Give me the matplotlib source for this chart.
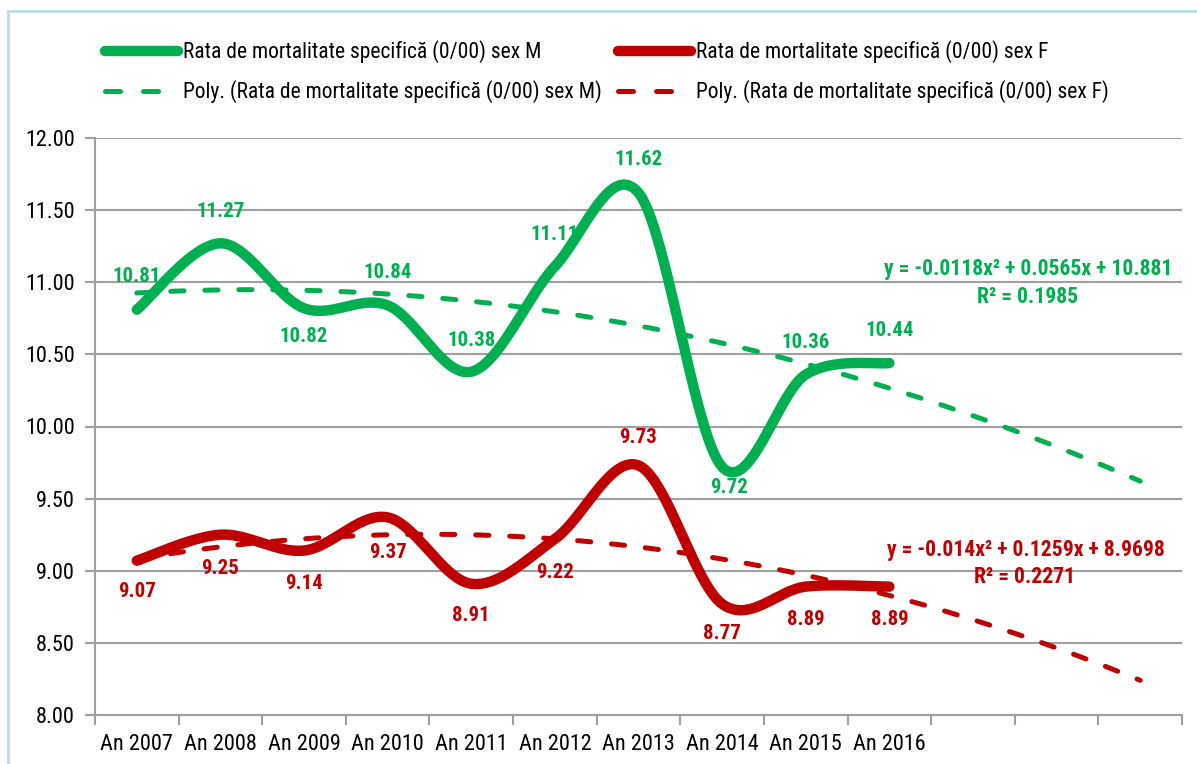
import matplotlib

matplotlib.use("Agg")
import matplotlib.pyplot as plt
import numpy as np
from matplotlib import font_manager
from matplotlib.lines import Line2D
from matplotlib.patches import Rectangle


YEARS = ["An 2007", "An 2008", "An 2009", "An 2010", "An 2011",
         "An 2012", "An 2013", "An 2014", "An 2015", "An 2016"]
MALE = [10.81, 11.27, 10.82, 10.84, 10.38, 11.11, 11.62, 9.72, 10.36, 10.44]
FEMALE = [9.07, 9.25, 9.14, 9.37, 8.91, 9.22, 9.73, 8.77, 8.89, 8.89]
MALE_POLY = [-0.0118, 0.0565, 10.881]
FEMALE_POLY = [-0.014, 0.1259, 8.9698]
MALE_R2 = 0.1985
FEMALE_R2 = 0.2271
N_SLOTS = 13  # 10 years + 3 forecast periods of the trendline

# label offsets in pixels (dx, dy), dy positive = down
MALE_OFFS = [(0, -33), (0, -32), (0, 28), (0, -33), (0, -31),
             (0, -32), (0, -33), (7, 21), (0, -32), (0, -33)]
FEMALE_OFFS = [(0, 31), (0, 34), (0, 33), (0, 35), (0, 32),
               (0, 33), (0, -28), (0, 30), (0, 33), (0, 33)]

GREEN = "#00b050"
RED = "#c00000"
GRID = "#9f9f9f"

names = {f.name for f in font_manager.fontManager.ttflist}
FONT = next(f for f in ["Liberation Sans Narrow", "Roboto Condensed", "Archivo Narrow", "DejaVu Sans"]
            if f in names)
plt.rcParams["font.family"] = [FONT, "DejaVu Sans"]
plt.rcParams["lines.scale_dashes"] = False


def smooth(values, n=40):
    # Excel-like smoothed line: cubic Bezier with Catmull-Rom control points
    pts = np.column_stack([np.arange(1, len(values) + 1, dtype=float), np.asarray(values, float)])
    prev = np.vstack([pts[0], pts[:-1]])
    nxt = np.vstack([pts[1:], pts[-1]])
    tang = (nxt - prev) / 6.0
    t = np.linspace(0, 1, n)[:, None]
    out = []
    for i in range(len(pts) - 1):
        p0, p3 = pts[i], pts[i + 1]
        p1, p2 = p0 + tang[i], p3 - tang[i + 1]
        seg = (1 - t) ** 3 * p0 + 3 * (1 - t) ** 2 * t * p1 + 3 * (1 - t) * t ** 2 * p2 + t ** 3 * p3
        out.append(seg if i == 0 else seg[1:])
    return np.vstack(out)


fig = plt.figure(figsize=(11.97, 7.64), dpi=100)
ax = fig.add_axes([95 / 1197, 1 - 715 / 764, (1182 - 95) / 1197, (715 - 138) / 764])

# chart border
fig.patches.append(Rectangle((8 / 1197, -0.05), 1.1, 1 - 11 / 764 + 0.05, transform=fig.transFigure,
                             fill=False, edgecolor="#b7dde8", linewidth=2.0))

ax.set_xlim(0.5, N_SLOTS + 0.5)
ax.set_ylim(8.0, 12.0)
ax.set_yticks(np.arange(8.0, 12.01, 0.5))
ax.set_yticklabels([f"{v:.2f}" for v in np.arange(8.0, 12.01, 0.5)])
ax.set_xticks(np.arange(1, len(YEARS) + 1))
ax.set_xticklabels(YEARS)
ax.set_xticks(np.arange(0.5, N_SLOTS + 1), minor=True)
ax.tick_params(axis="x", which="major", length=0, pad=14, labelsize=16)
ax.tick_params(axis="x", which="minor", length=7, width=1.5, color=GRID)
ax.tick_params(axis="y", length=7, width=1.5, color=GRID, pad=7.5, labelsize=16)
ax.grid(axis="y", color=GRID, linewidth=1.5)
ax.set_axisbelow(True)
for side in ["top", "right"]:
    ax.spines[side].set_visible(False)
for side in ["left", "bottom"]:
    ax.spines[side].set_color(GRID)
    ax.spines[side].set_linewidth(1.5)

xs = np.arange(1, len(YEARS) + 1)
xt = np.linspace(1, N_SLOTS, 200)
dash = (0, (9.5, 15))

for vals, poly, col, offs in [(MALE, MALE_POLY, GREEN, MALE_OFFS), (FEMALE, FEMALE_POLY, RED, FEMALE_OFFS)]:
    ax.plot(xt, np.polyval(poly, xt), color=col, linewidth=3.6, linestyle=dash,
            dash_capstyle="round", zorder=3)
    curve = smooth(vals)
    ax.plot(curve[:, 0], curve[:, 1], color=col, linewidth=7.5, solid_capstyle="round", zorder=4)
    for x, v, (dx, dy) in zip(xs, vals, offs):
        ax.annotate(f"{v:.2f}", (x, v), xytext=(dx, -dy), textcoords="offset pixels",
                    ha="center", va="center", color=col, fontsize=15, fontweight="bold", zorder=5)


def eq_text(poly):
    a, b, c = poly
    return f"y = {a:g}x² + {b:g}x + {c:g}"


fig.text(1028 / 1197, 1 - 269 / 764, eq_text(MALE_POLY), ha="center", va="center",
         color=GREEN, fontsize=15.6, fontweight="bold")
fig.text(1028 / 1197, 1 - 297 / 764, f"R² = {MALE_R2:.4f}", ha="center", va="center",
         color=GREEN, fontsize=15.6, fontweight="bold")
fig.text(1026 / 1197, 1 - 550 / 764, eq_text(FEMALE_POLY), ha="center", va="center",
         color=RED, fontsize=15.6, fontweight="bold")
fig.text(1025 / 1197, 1 - 577 / 764, f"R² = {FEMALE_R2:.4f}", ha="center", va="center",
         color=RED, fontsize=15.6, fontweight="bold")

label = "Rata de mortalitate specifică (0/00) sex {}"
leg_dash = (0, (10.8, 16.6))
handles = [
    Line2D([], [], color=GREEN, linewidth=7.5, solid_capstyle="round"),
    Line2D([], [], color=GREEN, linewidth=3.6, linestyle=leg_dash, dash_capstyle="round"),
    Line2D([], [], color=RED, linewidth=7.5, solid_capstyle="round"),
    Line2D([], [], color=RED, linewidth=3.6, linestyle=leg_dash, dash_capstyle="round"),
]
labels = [label.format("M"), "Poly. (" + label.format("M") + ")",
          label.format("F"), "Poly. (" + label.format("F") + ")"]
fig.legend(handles, labels, ncol=2, loc="upper left", bbox_to_anchor=(105 / 1197, 1 - 40.5 / 764),
           frameon=False, fontsize=15.5, handlelength=3.4, handletextpad=0.23,
           columnspacing=0.75, labelspacing=0.78, borderpad=0, borderaxespad=0)

fig.savefig("out.png", dpi=100)
